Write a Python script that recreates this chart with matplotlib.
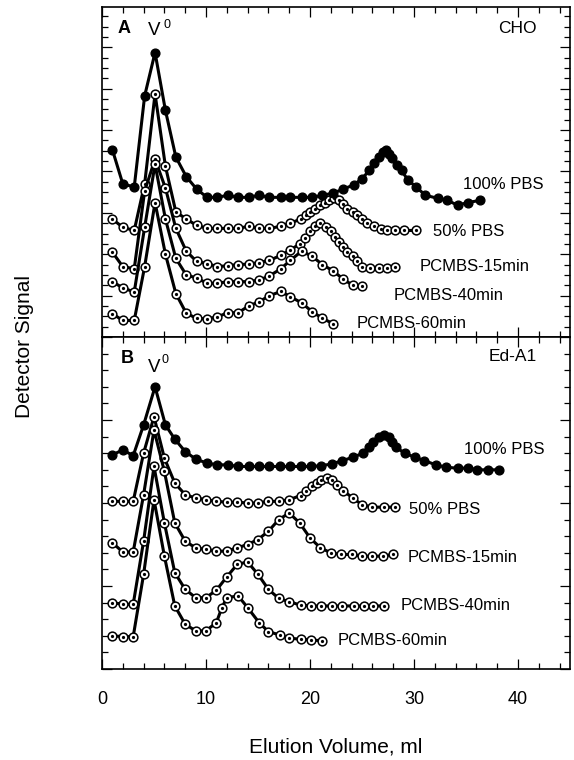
import matplotlib
matplotlib.use('Agg')
import matplotlib.pyplot as plt
from matplotlib.ticker import MultipleLocator

plt.rcParams['font.family'] = ['Liberation Sans', 'DejaVu Sans']

# ---- Panel A: CHO ----
cho_100_x = [1.0, 2.0, 3.1, 4.1, 5.1, 6.1, 7.1, 8.1, 9.1, 10.1, 11.1, 12.1, 13.1, 14.1, 15.1,
             16.1, 17.2, 18.1, 19.2, 20.2, 21.2, 22.2, 23.2, 24.2, 25.0, 25.7, 26.2, 26.6, 27.0,
             27.3, 27.6, 27.9, 28.4, 28.8, 29.4, 30.2, 31.1, 32.3, 33.2, 34.2, 35.2, 36.3]
cho_100_y = [18.1, 14.8, 14.5, 23.3, 27.5, 21.9, 17.4, 15.5, 14.3, 13.5, 13.5, 13.7, 13.5, 13.5,
             13.7, 13.5, 13.5, 13.5, 13.5, 13.5, 13.7, 13.9, 14.3, 14.7, 15.3, 16.1, 16.8, 17.4,
             17.9, 18.1, 17.7, 17.3, 16.6, 16.1, 15.2, 14.5, 13.7, 13.4, 13.2, 12.75, 13.0, 13.2]

cho_50_x = [1.0, 2.0, 3.1, 4.1, 5.1, 6.1, 7.1, 8.1, 9.1, 10.1, 11.1, 12.1, 13.1, 14.1, 15.1,
            16.1, 17.2, 18.1, 19.1, 19.6, 20.0, 20.5, 21.0, 21.4, 21.8, 22.3, 22.8, 23.2, 23.6,
            24.1, 24.5, 25.0, 25.5, 26.2, 26.8, 27.4, 28.2, 29.0, 30.2]
cho_50_y = [11.4, 10.6, 10.3, 14.8, 23.5, 16.5, 12.1, 11.4, 10.8, 10.5, 10.5, 10.5, 10.5, 10.7,
            10.5, 10.5, 10.7, 11.0, 11.4, 11.8, 12.1, 12.4, 12.75, 13.0, 13.2, 13.4, 13.2, 12.85,
            12.4, 12.1, 11.8, 11.4, 11.0, 10.7, 10.4, 10.3, 10.3, 10.3, 10.3]

cho_15_x = [1.0, 2.0, 3.1, 4.1, 5.1, 6.1, 7.1, 8.1, 9.1, 10.1, 11.1, 12.1, 13.1, 14.1, 15.1,
            16.1, 17.2, 18.1, 19.0, 19.5, 20.0, 20.5, 21.0, 21.5, 22.0, 22.4, 22.8, 23.2, 23.6,
            24.1, 24.5, 25.0, 25.8, 26.6, 27.4, 28.2]
cho_15_y = [8.2, 6.8, 6.6, 14.1, 17.2, 14.4, 10.5, 8.3, 7.3, 7.1, 6.8, 6.9, 7.0, 7.05, 7.2,
            7.4, 7.9, 8.4, 9.0, 9.6, 10.2, 10.7, 11.0, 10.6, 10.2, 9.7, 9.2, 8.7, 8.2, 7.8,
            7.3, 6.8, 6.7, 6.7, 6.7, 6.8]

cho_40_x = [1.0, 2.0, 3.1, 4.1, 5.1, 6.1, 7.1, 8.1, 9.1, 10.1, 11.1, 12.1, 13.1, 14.1, 15.1,
            16.1, 17.2, 18.1, 19.2, 20.2, 21.2, 22.2, 23.2, 24.1, 25.0]
cho_40_y = [5.35, 4.75, 4.35, 10.6, 16.7, 11.4, 7.6, 6.0, 5.7, 5.2, 5.2, 5.35, 5.35, 5.35, 5.5,
            5.9, 6.6, 7.4, 8.3, 7.8, 7.0, 6.4, 5.6, 5.0, 4.9]

cho_60_x = [1.0, 2.0, 3.1, 4.1, 5.1, 6.1, 7.1, 8.1, 9.1, 10.1, 11.1, 12.1, 13.1, 14.1, 15.1,
            16.1, 17.2, 18.1, 19.2, 20.2, 21.2, 22.2]
cho_60_y = [2.25, 1.6, 1.6, 6.8, 13.0, 8.0, 4.2, 2.3, 1.8, 1.75, 1.95, 2.35, 2.35, 3.0, 3.4,
            4.0, 4.4, 3.9, 3.3, 2.45, 1.8, 1.3]

# ---- Panel B: Ed-A1 ----
eda_100_x = [1.0, 2.0, 3.0, 4.0, 5.1, 6.1, 7.0, 8.0, 9.0, 10.1, 11.1, 12.1, 13.1, 14.1, 15.1,
             16.1, 17.1, 18.1, 19.1, 20.1, 21.1, 22.1, 23.1, 24.1, 25.1, 25.7, 26.1, 26.6, 27.1,
             27.6, 27.9, 28.3, 29.1, 30.1, 31.0, 32.1, 33.1, 34.2, 35.2, 36.1, 37.1, 38.2]
eda_100_y = [12.9, 13.2, 12.85, 14.7, 17.0, 14.7, 13.85, 13.1, 12.65, 12.4, 12.3, 12.3, 12.2,
             12.2, 12.2, 12.2, 12.2, 12.2, 12.2, 12.2, 12.25, 12.35, 12.55, 12.75, 13.0, 13.4,
             13.7, 13.95, 14.1, 13.95, 13.7, 13.35, 13.0, 12.75, 12.55, 12.3, 12.15, 12.1, 12.1,
             12.0, 12.0, 12.0]

eda_50_x = [1.0, 2.0, 3.0, 4.0, 5.0, 6.0, 7.0, 8.0, 9.0, 10.0, 11.0, 12.0, 13.0, 14.0, 15.0,
            16.0, 17.0, 18.0, 19.1, 19.6, 20.2, 20.7, 21.1, 21.6, 22.1, 22.6, 23.2, 24.1, 25.0,
            26.0, 27.1, 28.2]
eda_50_y = [10.1, 10.1, 10.1, 13.0, 15.2, 12.7, 11.2, 10.5, 10.3, 10.2, 10.1, 10.05, 10.05,
            10.0, 10.0, 10.1, 10.1, 10.2, 10.45, 10.7, 11.0, 11.2, 11.4, 11.5, 11.4, 11.1, 10.75,
            10.3, 9.9, 9.75, 9.75, 9.75]

eda_15_x = [1, 2, 3, 4, 5, 6, 7, 8, 9, 10, 11, 12, 13, 14, 15, 16, 17, 18, 19, 20, 21, 22, 23,
            24, 25, 26, 27, 28]
eda_15_y = [7.6, 7.05, 7.05, 10.5, 14.4, 11.9, 8.8, 7.7, 7.3, 7.2, 7.1, 7.1, 7.3, 7.5, 7.8,
            8.3, 9.0, 9.4, 8.8, 7.9, 7.3, 7.0, 6.9, 6.9, 6.8, 6.8, 6.8, 6.9]

eda_40_x = [1, 2, 3, 4, 5, 6, 7, 8, 9, 10, 11, 12, 13, 14, 15, 16, 17, 18, 19.1, 20.1, 21.1,
            22.1, 23.1, 24.2, 25.2, 26.1, 27.1]
eda_40_y = [4.0, 3.9, 3.9, 7.7, 12.2, 8.8, 5.8, 4.8, 4.3, 4.3, 4.75, 5.55, 6.3, 6.45, 5.7, 4.8,
            4.25, 4.05, 3.85, 3.8, 3.8, 3.8, 3.8, 3.8, 3.8, 3.8, 3.8]

eda_60_x = [1.0, 2.0, 3.0, 4.0, 5.0, 6.0, 7.0, 8.0, 9.0, 10.0, 11.0, 11.5, 12.0, 13.1, 14.0,
            15.1, 16.0, 17.1, 18.0, 19.1, 20.1, 21.2]
eda_60_y = [2.0, 1.95, 1.95, 5.7, 10.2, 6.8, 3.8, 2.7, 2.3, 2.3, 2.8, 3.65, 4.3, 4.4, 3.7, 2.8,
            2.25, 2.05, 1.85, 1.8, 1.75, 1.7]

series_names = ['100% PBS', '50% PBS', 'PCMBS-15min', 'PCMBS-40min', 'PCMBS-60min']


def plot_filled(ax, x, y):
    ax.plot(x, y, '-', color='black', lw=2.2, marker='o', ms=6.3,
            mfc='black', mec='black', zorder=4)


def plot_open(ax, x, y):
    ax.plot(x, y, '-', color='black', lw=2.2, marker='o', ms=6.3,
            mfc='white', mec='black', mew=1.1, zorder=3)
    # little dot in the middle of each open circle
    ax.plot(x, y, linestyle='none', marker='o', ms=1.3, color='black', zorder=3)


def style_axes(ax, ymax, ymajor):
    ax.set_xlim(0, 45)
    ax.set_ylim(0, ymax)
    ax.xaxis.set_major_locator(MultipleLocator(10))
    ax.xaxis.set_minor_locator(MultipleLocator(2))
    ax.yaxis.set_major_locator(MultipleLocator(ymajor))
    ax.yaxis.set_minor_locator(MultipleLocator(1))
    ax.tick_params(which='both', direction='in', top=True, right=True,
                   labelleft=False, width=0.9)
    ax.tick_params(which='major', length=7)
    ax.tick_params(which='minor', length=4)
    for s in ax.spines.values():
        s.set_linewidth(1.2)


fig = plt.figure(figsize=(5.74, 7.6), dpi=100)
W, H = 574.0, 760.0
axA = fig.add_axes([102 / W, 1 - 337 / H, 468 / W, 330 / H])
axB = fig.add_axes([102 / W, 1 - 669 / H, 468 / W, 332 / H])

# panel A
plot_filled(axA, cho_100_x, cho_100_y)
plot_open(axA, cho_50_x, cho_50_y)
plot_open(axA, cho_15_x, cho_15_y)
plot_open(axA, cho_40_x, cho_40_y)
plot_open(axA, cho_60_x, cho_60_y)
style_axes(axA, 31.9, 4)
axA.tick_params(axis='x', labelbottom=False)

label_pos_A = [(34.7, 14.7), (31.8, 10.2), (30.5, 6.8), (28.0, 4.06), (24.5, 1.3)]
for name, (tx, ty) in zip(series_names, label_pos_A):
    axA.text(tx, ty, name, fontsize=12, ha='left', va='center')

axA.text(0.034, 0.935, 'A', transform=axA.transAxes, fontsize=13, fontweight='bold',
         ha='left', va='center')
axA.text(0.098, 0.930, 'V', transform=axA.transAxes, fontsize=13.5, ha='left', va='center')
axA.text(0.131, 0.946, '0', transform=axA.transAxes, fontsize=9, ha='left', va='center')
axA.text(0.928, 0.934, 'CHO', transform=axA.transAxes, fontsize=12.5, ha='right', va='center')

# panel B
plot_filled(axB, eda_100_x, eda_100_y)
plot_open(axB, eda_50_x, eda_50_y)
plot_open(axB, eda_15_x, eda_15_y)
plot_open(axB, eda_40_x, eda_40_y)
plot_open(axB, eda_60_x, eda_60_y)
style_axes(axB, 20, 5)
axB.tick_params(axis='x', labelsize=13, pad=16)

label_pos_B = [(34.8, 13.2), (29.5, 9.6), (29.4, 6.7), (28.7, 3.85), (22.7, 1.7)]
for name, (tx, ty) in zip(series_names, label_pos_B):
    axB.text(tx, ty, name, fontsize=12, ha='left', va='center')

axB.text(0.041, 0.934, 'B', transform=axB.transAxes, fontsize=13, fontweight='bold',
         ha='left', va='center')
axB.text(0.098, 0.907, 'V', transform=axB.transAxes, fontsize=13.5, ha='left', va='center')
axB.text(0.127, 0.93, '0', transform=axB.transAxes, fontsize=9, ha='left', va='center')
axB.text(0.930, 0.94, 'Ed-A1', transform=axB.transAxes, fontsize=12.5, ha='right', va='center')

fig.text(336 / W, 1 - 747 / H, 'Elution Volume, ml', fontsize=15, ha='center', va='center')
fig.text(24.5 / W, 1 - 346 / H, 'Detector Signal', fontsize=15, rotation=90,
         ha='center', va='center')

fig.savefig('out.png', dpi=100)
